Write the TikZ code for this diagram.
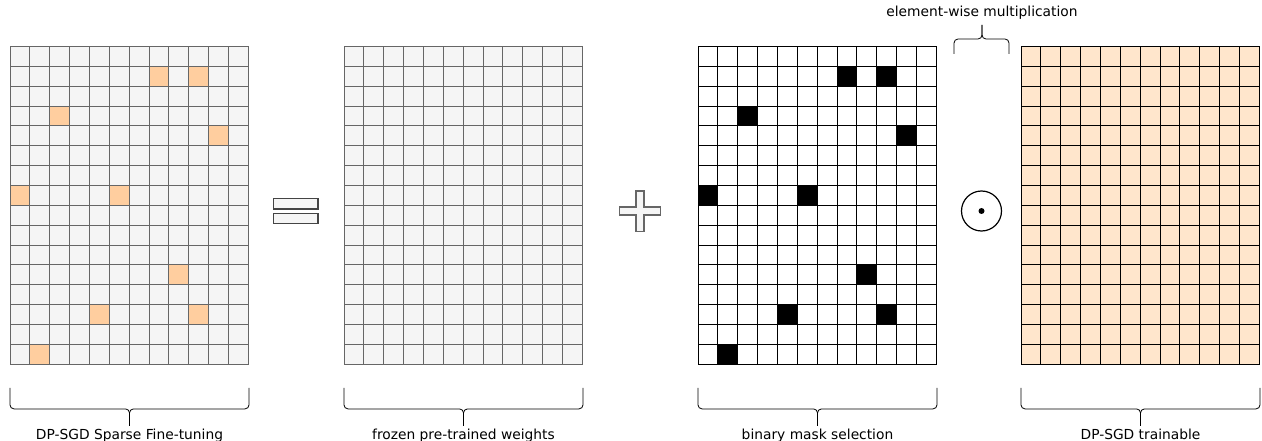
\documentclass[tikz,border=0pt]{standalone}
\usepackage{fontspec}
\setmainfont{DejaVu Sans}
\usetikzlibrary{positioning, calc}
\definecolor{cellgrey}{RGB}{245,245,245}
\definecolor{linegrey}{RGB}{102,102,102}
\definecolor{hotpeach}{RGB}{255,206,159}
\definecolor{softpeach}{RGB}{255,230,204}
\definecolor{signgrey}{RGB}{68,68,68}

\newcommand{\cellsz}{19.85}

% grid of 12 x 16 cells: name, left x, fill, line colour
\newcommand{\weightgrid}[4]{%
  \node[gridbox, fill=#3, draw=#4] (#1) at (#2,46.5) {};
  \foreach \c in {1,...,11}
    \draw[cellline, #4] ($(#1.north west)+(\c*\cellsz,0)$) -- ($(#1.south west)+(\c*\cellsz,0)$);
  \foreach \r in {1,...,15}
    \draw[cellline, #4] ($(#1.north west)+(0,\r*\cellsz)$) -- ($(#1.north east)+(0,\r*\cellsz)$);
}

% bracket under a grid, with its label
\newcommand{\gridbracket}[3]{%
  \coordinate (#2) at ($(#1.south)+(0,61)$);
  \draw[bracket] ($(#1.south west)+(0,23)$) |- ($(#1.south)+(0,44)$) -- (#2);
  \draw[bracket] ($(#1.south east)+(0,23)$) |- ($(#1.south)+(0,44)$) -- (#2);
  \node[lbl, below=3pt of #2] {#3};
}

\begin{document}
\begin{tikzpicture}[
  x=1pt, y=-1pt,
  gridbox/.style={rectangle, anchor=north west, inner sep=0pt,
              minimum width=238.2pt, minimum height=317.6pt, line width=0.8pt},
  cellline/.style={line width=0.8pt},
  bracket/.style={line width=0.8pt, rounded corners=4pt},
  lbl/.style={font=\fontsize{13.8}{16}\selectfont, inner sep=0pt},
  signbox/.style={draw=signgrey, fill=cellgrey, line width=1.6pt}
]
\useasboundingbox (0,0) rectangle (1262,441);

% ── The four weight grids ──
\weightgrid{sparse}{10}{cellgrey}{linegrey}
\weightgrid{frozen}{344}{cellgrey}{linegrey}
\weightgrid{mask}{698}{white}{black}
\weightgrid{train}{1021}{softpeach}{black}

% ── Selected cells: same pattern in result and mask ──
\foreach \c/\r in {7/1, 9/1, 2/3, 10/4, 0/7, 5/7, 8/11, 4/13, 9/13, 1/15} {
  \filldraw[cellline, fill=hotpeach, draw=linegrey]
    ($(sparse.north west)+(\c*\cellsz,\r*\cellsz)$) rectangle +(\cellsz,\cellsz);
  \filldraw[cellline, fill=black, draw=black]
    ($(mask.north west)+(\c*\cellsz,\r*\cellsz)$) rectangle +(\cellsz,\cellsz);
}

% ── Operators ──
\draw[signbox] (273.5,198.5) rectangle (318,209);
\draw[signbox] (273.5,213.5) rectangle (318,223.5);
\draw[signbox, draw=linegrey, line width=1.3pt]
  (636,191) -- (644,191) -- (644,207) -- (660.5,207) -- (660.5,215)
  -- (644,215) -- (644,231.5) -- (636,231.5) -- (636,215) -- (619.5,215)
  -- (619.5,207) -- (636,207) -- cycle;
\node[circle, draw, line width=1.2pt, minimum size=40pt, inner sep=0pt] (odot) at (981.5,211) {};
\fill (odot.center) circle (3pt);

% ── Brackets and labels ──
\gridbracket{sparse}{sparsetip}{DP-SGD Sparse Fine-tuning}
\gridbracket{frozen}{frozentip}{frozen pre-trained weights}
\gridbracket{mask}{masktip}{binary mask selection}
\gridbracket{train}{traintip}{DP-SGD trainable}

% ── Bracket over the product ──
\coordinate (multip) at (982,25);
\draw[bracket] (954,54) |- (982,39) -- (multip);
\draw[bracket] (1009,54) |- (982,39) -- (multip);
\node[lbl, above=5pt of multip] {element-wise multiplication};

\end{tikzpicture}
\end{document}
